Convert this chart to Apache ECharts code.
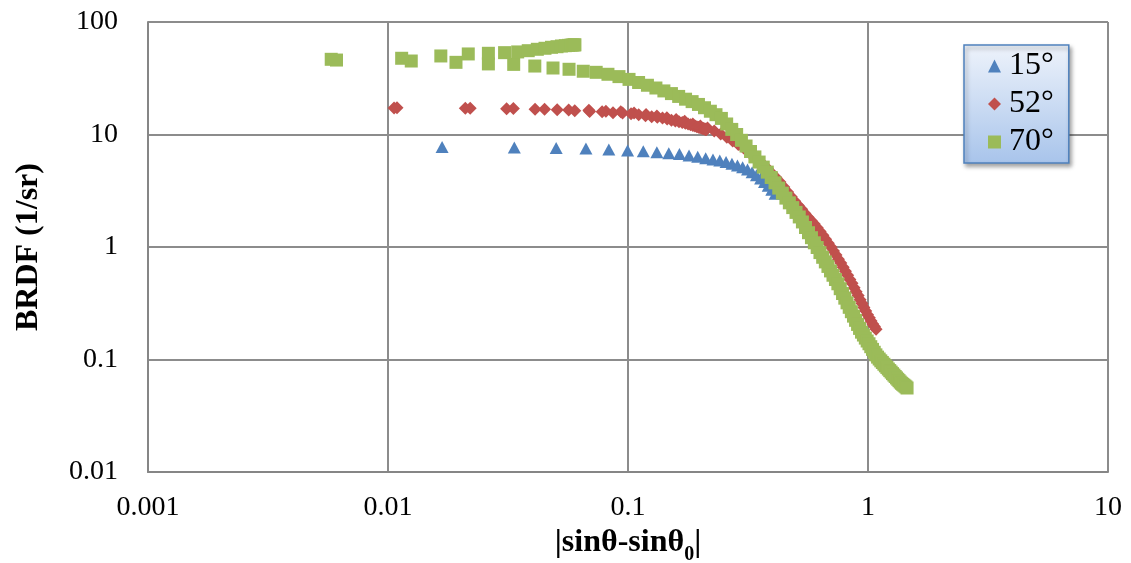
<!DOCTYPE html>
<html>
<head>
<meta charset="utf-8">
<script src="https://cdn.jsdelivr.net/npm/echarts/dist/echarts.min.js"></script>
<style>
  html, body { margin: 0; padding: 0; background: #fff; }
  #chart { width: 1131px; height: 563px; }
</style>
</head>
<body>
<div id="chart"></div>
<script>
// Series names
const seriesNames = ['15°', '52°', '70°'];

// 15° series
const x15 = [0.0168,0.0336,0.0502,0.0668,0.0832,0.0996,0.1158,0.1319,0.1479,0.1638,0.1796,0.1952,0.2107,0.2260,0.2412,0.2562,0.2711,0.2858,0.3004,0.3148,0.3290,0.3430,0.3569,0.3705,0.3840,0.3973,0.4103];
const y15 = [7.74,7.66,7.58,7.51,7.36,7.2,7.08,6.95,6.82,6.7,6.52,6.33,6.15,5.98,5.86,5.7,5.5,5.3,5.12,4.88,4.62,4.35,4.07,3.78,3.5,3.22,2.98];

// 52° series (small-angle branch, then large-angle branch)
const x52 = [0.0109,0.0220,0.0333,0.0449,0.0566,0.0687,0.0809,0.0933,0.1060,0.1189,0.1319,0.1452,0.1587,0.1723,0.1862,0.2002,0.2144,0.2288,0.2434,0.2581,0.2730,0.2880,0.3032,0.3185,0.3340,0.3496,0.3654,0.3813,0.3973,0.4134,0.4296,0.4460,0.4624,0.4790,0.4956,0.5124,0.5292,0.5461,0.5630,0.5801,0.5972,0.6144,0.6316,0.6488,0.6661,0.6835,0.7008,0.7182,0.7357,0.7531,0.7705,0.7880,0.8055,0.8229,0.8403,0.8578,0.8752,0.8925,0.9099,0.9272,0.9444,0.9616,0.9788,0.9959,1.0130,1.0299,1.0468,1.0636,1.0804,
  0.0106,0.0210,0.0312,0.0410,0.0507,0.0600,0.0692,0.0780,0.0866,0.0949,0.1030,0.1108,0.1183,0.1255,0.1325,0.1392,0.1456,0.1517,0.1575,0.1631,0.1683,0.1733,0.1779,0.1823,0.1864,0.1901,0.1936,0.1968,0.1997,0.2023,0.2045,0.2065,0.2082,0.2096,0.2106,0.2114,0.2118];
const y52 = [17.3,17.1,17.0,16.8,16.5,16.4,16.1,15.9,15.55,15.05,14.6,14.1,13.6,13.1,12.4,11.9,11.4,10.75,10.1,9.47,8.76,8.13,7.58,6.97,6.40,5.89,5.43,4.98,4.53,4.14,3.78,3.41,3.09,2.80,2.55,2.34,2.16,1.99,1.84,1.71,1.60,1.48,1.37,1.27,1.17,1.08,1.00,0.92,0.85,0.78,0.72,0.66,0.61,0.56,0.515,0.475,0.435,0.40,0.37,0.34,0.315,0.29,0.27,0.25,0.235,0.22,0.207,0.196,0.186,
  17.2,17.1,16.9,16.8,16.6,16.3,16.0,15.9,15.6,15.5,15.3,15.0,14.7,14.4,14.2,14.0,13.7,13.4,13.2,13.0,12.8,12.6,12.4,12.2,12.0,11.9,11.7,11.6,11.5,11.4,11.3,11.3,11.2,11.2,11.1,11.1,11.1];

// 70° series (small-angle branch, then large-angle branch)
const x70 = [0.0061,0.0125,0.0192,0.0262,0.0334,0.0409,0.0487,0.0568,0.0651,0.0737,0.0825,0.0917,0.1010,0.1107,0.1205,0.1307,0.1411,0.1517,0.1626,0.1737,0.1850,0.1966,0.2083,0.2204,0.2326,0.2450,0.2577,0.2706,0.2836,0.2969,0.3104,0.3240,0.3379,0.3519,0.3661,0.3805,0.3951,0.4098,0.4247,0.4397,0.4549,0.4702,0.4857,0.5013,0.5171,0.5330,0.5490,0.5651,0.5813,0.5977,0.6141,0.6307,0.6473,0.6641,0.6809,0.6978,0.7147,0.7318,0.7489,0.7661,0.7833,0.8005,0.8178,0.8352,0.8525,0.8699,0.8874,0.9048,0.9222,0.9397,0.9572,0.9746,0.9920,1.0095,1.0269,1.0442,1.0616,1.0789,1.0961,1.1133,1.1305,1.1476,1.1647,1.1816,1.1985,1.2153,1.2321,1.2487,1.2653,1.2817,1.2981,1.3143,1.3304,1.3464,1.3623,1.3781,1.3937,1.4092,1.4245,1.4397,1.4547,
  0.0058,0.0114,0.0166,0.0216,0.0262,0.0306,0.0347,0.0384,0.0419,0.0451,0.0480,0.0506,0.0528,0.0548,0.0565,0.0579,0.0589,0.0597,0.0601];
const y70 = [45.9,45.0,43.8,42.4,42.0,40.6,39.0,38.0,36.5,35.7,34.3,32.7,30.9,29.0,27.4,25.9,24.4,23.1,21.8,20.6,19.6,18.5,17.3,16.1,15.0,13.9,12.4,11.1,10.0,8.88,7.90,7.06,6.32,5.69,5.13,4.63,4.15,3.72,3.34,3.01,2.72,2.47,2.24,2.03,1.85,1.67,1.49,1.34,1.21,1.09,0.99,0.892,0.81,0.737,0.672,0.613,0.561,0.514,0.471,0.426,0.386,0.351,0.319,0.291,0.266,0.243,0.223,0.205,0.189,0.175,0.165,0.155,0.146,0.138,0.130,0.123,0.116,0.110,0.105,0.101,0.0973,0.094,0.0908,0.0878,0.085,0.0823,0.0797,0.0773,0.0749,0.0727,0.0706,0.0686,0.0667,0.0649,0.0631,0.0615,0.0603,0.0592,0.0581,0.0570,0.0558,
  46.6,47.6,49.9,52.0,52.7,53.4,54.2,55.6,57.2,58.4,59.6,60.3,61.2,61.6,62.0,62.3,62.5,62.6,62.7];

// Axis ranges
const xRange = [0.001, 10];
const yRange = [0.01, 100];

function zip(xs, ys) { return xs.map((x, i) => [x, ys[i]]); }
const FONT = '"Liberation Serif", "Times New Roman", serif';
const fmt = v => String(Number(Number(v).toPrecision(4)));

const chart = echarts.init(document.getElementById('chart'), null, { renderer: 'canvas' });
chart.setOption({
  animation: false,
  backgroundColor: '#ffffff',
  grid: { left: 148, right: 23, top: 22, bottom: 91, containLabel: false, outerBoundsMode: 'none' },
  legend: {
    orient: 'vertical',
    left: 964,
    top: 45,
    padding: [5, 15, 5, 24],
    itemGap: 6,
    itemWidth: 13,
    itemHeight: 13,
    data: seriesNames,
    textStyle: { fontFamily: FONT, fontSize: 32, color: '#000', lineHeight: 31, padding: [0, 0, 0, 3] },
    backgroundColor: new echarts.graphic.LinearGradient(0, 0, 0, 1, [
      { offset: 0, color: '#EEF3FB' },
      { offset: 1, color: '#A8C4EB' }
    ]),
    borderColor: '#4F81BD',
    borderWidth: 1.5,
    shadowColor: 'rgba(0,0,0,0.35)',
    shadowBlur: 4,
    shadowOffsetX: 2,
    shadowOffsetY: 3
  },
  xAxis: {
    type: 'log',
    logBase: 10,
    min: xRange[0],
    max: xRange[1],
    axisLine: { show: true, lineStyle: { color: '#868686', width: 2 } },
    axisTick: { show: false },
    splitLine: { show: true, lineStyle: { color: '#8c8c8c', width: 2 } },
    axisLabel: { fontFamily: FONT, fontSize: 28, color: '#000', margin: 22, formatter: fmt, showMinLabel: true, showMaxLabel: true },
    name: '{b||sinθ-sinθ}{s|0}{b||}',
    nameLocation: 'middle',
    nameGap: 48,
    nameTextStyle: {
      rich: {
        b: { fontFamily: FONT, fontSize: 32, fontWeight: 'bold', color: '#000', lineHeight: 44 },
        s: { fontFamily: FONT, fontSize: 20, fontWeight: 'bold', color: '#000', lineHeight: 20, verticalAlign: 'bottom' }
      }
    }
  },
  yAxis: {
    type: 'log',
    logBase: 10,
    min: yRange[0],
    max: yRange[1],
    axisLine: { show: true, lineStyle: { color: '#868686', width: 2 } },
    axisTick: { show: false },
    splitLine: { show: true, lineStyle: { color: '#8c8c8c', width: 2 } },
    axisLabel: { fontFamily: FONT, fontSize: 28, color: '#000', margin: 30, formatter: fmt, showMinLabel: true, showMaxLabel: true },
    name: 'BRDF (1/sr)',
    nameLocation: 'middle',
    nameRotate: 90,
    nameGap: 103,
    nameTextStyle: { fontFamily: FONT, fontSize: 32, fontWeight: 'bold', color: '#000' }
  },
  series: [
    { name: seriesNames[0], type: 'scatter', symbol: 'triangle', symbolSize: [13, 12],
      itemStyle: { color: '#4F81BD', opacity: 1 }, data: zip(x15, y15) },
    { name: seriesNames[1], type: 'scatter', symbol: 'diamond', symbolSize: 13,
      itemStyle: { color: '#C0504D', opacity: 1 }, data: zip(x52, y52) },
    { name: seriesNames[2], type: 'scatter', symbol: 'rect', symbolSize: 13,
      itemStyle: { color: '#9BBB59', opacity: 1 }, data: zip(x70, y70) }
  ]
});
</script>
</body>
</html>
